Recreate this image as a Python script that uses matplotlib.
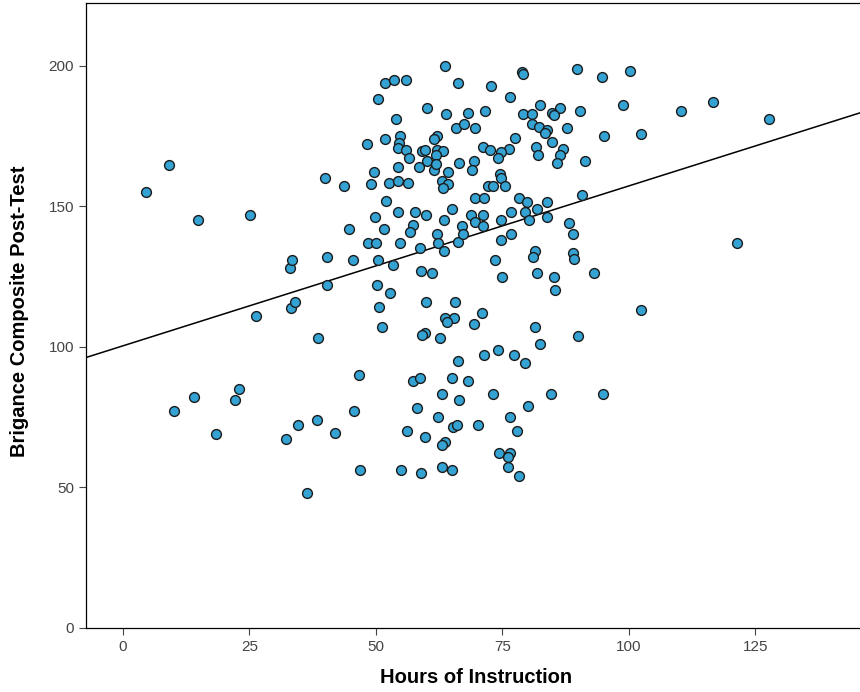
import matplotlib
matplotlib.use("Agg")
import matplotlib.pyplot as plt
import numpy as np

# hours of instruction vs post-test score
hours = [4.5, 9.1, 14.8, 25.1, 26.4, 10.0, 14.1, 18.4, 22.2, 23.0,
         32.2, 34.7, 36.4, 38.4, 41.9, 33.2, 33.0, 33.5, 34.1, 38.5,
         39.9, 40.3, 40.3, 94.8, 121.3, 93.2, 102.4,
         94.7, 100.3, 98.8, 110.4, 116.7, 127.7, 95.0, 102.5,
         # dense block, upper left
         63.6, 51.8, 53.6, 55.9, 66.2, 50.5, 60.2, 63.8, 65.9, 53.9,
         48.2, 51.8, 54.7, 54.6, 54.4, 55.9, 56.6, 59.2, 59.7, 62.0,
         61.5, 62.1, 63.3, 61.9, 60.1, 58.6, 61.5, 61.9, 54.4, 49.7,
         49.1, 52.6, 54.4, 56.3, 43.7, 52.1, 64.3, 63.0, 64.3, 63.3,
         66.5,
         # dense block, upper right
         78.8, 79.0, 89.7, 72.7, 76.6, 82.4, 86.4, 84.9, 85.3, 90.3,
         71.5, 68.2, 67.4, 69.6, 79.1, 80.8, 80.8, 82.3, 83.9, 83.4,
         87.7, 77.5, 84.9, 71.1, 72.5, 76.3, 74.8, 74.2, 81.6, 82.1,
         86.9, 86.4, 85.8, 91.3, 69.4, 69.1, 74.5, 74.8, 75.5, 72.2,
         73.2, 69.6, 71.3, 78.3, 79.8, 83.9, 90.7,
         # middle band
         54.4, 57.7, 60.0, 65.0, 49.8, 63.4, 44.7, 51.6, 57.4, 56.7,
         62.0, 48.5, 50.0, 54.7, 58.8, 62.3, 63.4, 66.3, 45.4, 50.5,
         53.3, 59.0, 61.1, 50.3, 52.8, 50.6, 59.9, 65.6, 51.3, 63.6,
         65.4, 64.1, 59.7, 59.2, 62.6,
         68.9, 71.2, 69.6, 71.1, 67.1, 67.3, 74.8, 76.8, 79.4, 81.9,
         80.3, 83.9, 74.8, 76.8, 88.2, 89.0, 81.4, 81.1, 89.0, 89.1,
         73.5, 75.0, 81.9, 85.2, 85.4, 70.9, 69.4, 81.4, 82.4, 90.0,
         71.4, 74.1, 77.4,
         # lower band
         66.3, 79.4, 68.2, 66.4, 73.1, 84.7, 80.0, 76.5, 77.9, 70.2,
         74.4, 76.5, 76.1, 76.1, 78.3,
         46.6, 45.7, 46.8, 57.4, 58.8, 65.0, 63.0, 58.2, 62.3, 56.1,
         59.7, 65.3, 66.1, 63.6, 63.1, 54.9, 58.9, 63.1, 65.1]

scores = [155, 164.7, 145, 147, 111, 77.1, 82.1, 69.2, 81, 85,
          67.1, 72.1, 48, 74.1, 69.3, 114, 128, 131, 116, 103.2,
          160, 132.1, 122, 83.2, 137, 126.2, 113.2,
          196, 198.1, 186, 184, 187.1, 181.1, 175.1, 175.9,
          200, 193.8, 195, 195, 194, 188.2, 185.2, 182.9, 178, 181,
          172.1, 174, 175.2, 172.5, 170.7, 170.1, 167.2, 169.9, 170.1, 175.2,
          173.9, 170.1, 169.9, 168.3, 166, 164.1, 163, 165, 164.2, 162.2,
          158, 158.3, 159.1, 158.3, 157.1, 152.1, 162.2, 159.1, 158, 156.5,
          165.5,
          198, 197, 199, 193, 189, 186.1, 185.2, 183.2, 182.5, 184,
          184, 183.2, 179.5, 178, 182.8, 182.8, 179.3, 178.4, 177.2, 176,
          178, 174.2, 173.1, 171.3, 170.1, 170.4, 169.3, 167.2, 171.3, 168.3,
          170.4, 168.3, 165.4, 166, 166.2, 163, 161.4, 160, 157.1, 157.3,
          157.1, 153.1, 152.9, 153.1, 151.7, 151.7, 154.1,
          147.9, 147.9, 147, 149.1, 146.2, 145, 141.9, 141.9, 143.4, 141,
          140.2, 137.1, 137.1, 137.1, 135.1, 137.1, 134.2, 137.5, 131, 131,
          129.1, 127.2, 126.2, 122.1, 119.1, 114.1, 116.1, 116.1, 107.2, 110.2,
          110.2, 109, 104.9, 104.3, 103.1,
          147, 147, 144.6, 143.1, 143.1, 140.2, 145, 147.9, 148.2, 149,
          145, 146.2, 138.1, 140.2, 144.2, 140.2, 134.3, 132.1, 133.3, 131.2,
          131, 125, 126.2, 125, 120.3, 112.2, 108.1, 107.2, 101.1, 104,
          97.3, 98.8, 97.3,
          95, 94.2, 88, 81, 83.3, 83.2, 79.1, 75.2, 70.2, 72.2,
          62.2, 62.2, 61, 57.2, 54.1,
          90, 77.2, 56.2, 88, 89.1, 89.1, 83.2, 78.2, 75.2, 70.2,
          68.1, 71.4, 72.2, 66.3, 65.1, 56.2, 55.3, 57.2, 56.2]

# fit line as drawn in the reference
fit_intercept = 100.4
fit_slope = 0.569

x_ticks = [0, 25, 50, 75, 100, 125]
y_ticks = [0, 50, 100, 150, 200]

plt.rcParams['font.family'] = ['Liberation Sans', 'DejaVu Sans']

fig = plt.figure(figsize=(8.6, 6.92), dpi=100)
ax = fig.add_axes([0.1, 0.0925, 0.9, 0.9032])

ax.scatter(hours, scores, s=50, c='#34a3d3', edgecolors='#1b1b1b',
           linewidths=1.0, zorder=3)

xlim = (-7.3, 145.7)
xs = np.array(xlim)
ax.plot(xs, fit_intercept + fit_slope * xs, color='black', lw=1.1, zorder=2)

ax.set_xlim(*xlim)
ax.set_ylim(0, 222.4)
ax.set_xticks(x_ticks)
ax.set_yticks(y_ticks)
ax.tick_params(labelsize=11, colors='#444444', length=5, width=0.8)

ax.spines['right'].set_visible(False)
for s in ['left', 'bottom', 'top']:
    ax.spines[s].set_linewidth(0.9)

ax.set_xlabel('Hours of Instruction', fontsize=14.5, fontweight='bold')
ax.set_ylabel('Brigance Composite Post-Test', fontsize=14.5, fontweight='bold')
ax.xaxis.set_label_coords(0.504, -0.064)
ax.yaxis.set_label_coords(-0.073, 0.506)

fig.savefig('out.png', dpi=100)
